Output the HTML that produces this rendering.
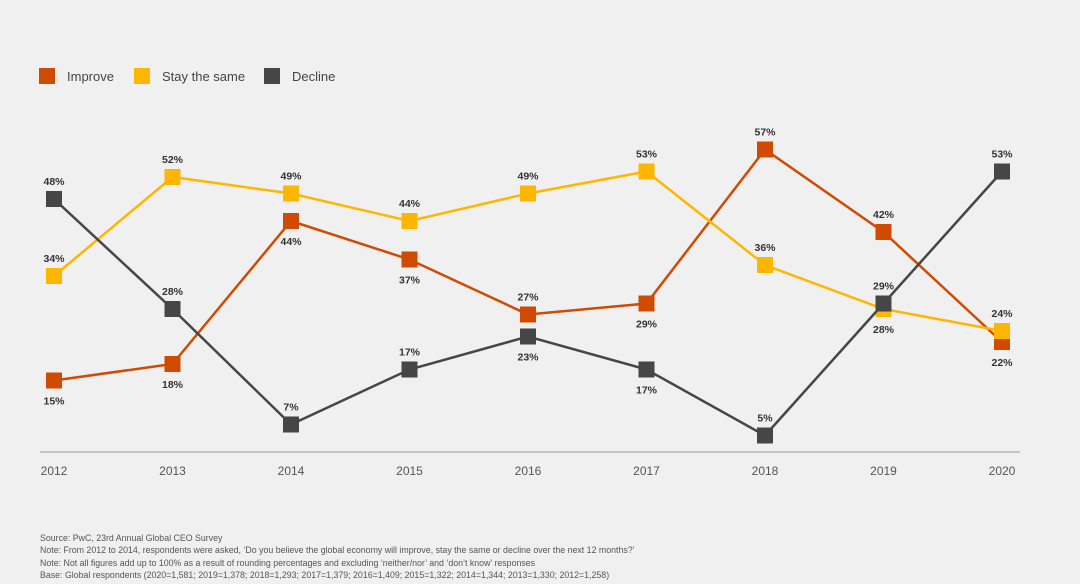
<!DOCTYPE html>
<html><head><meta charset="utf-8"><style>
html,body{margin:0;padding:0;background:#f0f0f0;}
body{width:1080px;height:584px;overflow:hidden;font-family:"Liberation Sans",sans-serif;position:relative;}
.leg{position:absolute;top:68px;font-size:13px;color:#444;display:flex;align-items:center;}
.sw{width:16px;height:16px;margin-right:12px;}
.notes{position:absolute;left:40px;top:532px;font-size:8.8px;color:#555;line-height:12.3px;}
</style></head><body>
<div class="leg" style="left:39px"><div class="sw" style="background:#d04a02"></div>Improve</div>
<div class="leg" style="left:134px"><div class="sw" style="background:#ffb600"></div>Stay the same</div>
<div class="leg" style="left:264px"><div class="sw" style="background:#464646"></div>Decline</div>
<svg id="chart" width="1080" height="584" style="position:absolute;left:0;top:0"></svg>
<div class="notes">Source: PwC, 23rd Annual Global CEO Survey<br>Note: From 2012 to 2014, respondents were asked, ‘Do you believe the global economy will improve, stay the same or decline over the next 12 months?’<br>Note: Not all figures add up to 100% as a result of rounding percentages and excluding ‘neither/nor’ and ‘don’t know’ responses<br>Base: Global respondents (2020=1,581; 2019=1,378; 2018=1,293; 2017=1,379; 2016=1,409; 2015=1,322; 2014=1,344; 2013=1,330; 2012=1,258)</div>
<script>
const years=["2012","2013","2014","2015","2016","2017","2018","2019","2020"];
const improve=[15,18,44,37,27,29,57,42,22];
const stay=[34,52,49,44,49,53,36,28,24];
const decline=[48,28,7,17,23,17,5,29,53];
const improvePos=["b","b","b","b","a","b","a","a","b"];
const stayPos=["a","a","a","a","a","a","a","b","a"];
const declinePos=["a","a","a","a","b","b","a","a","a"];
const NS="http://www.w3.org/2000/svg";
const svg=document.getElementById('chart');
function x(i){return 54+i*118.5;}
function y(v){return 463-v*5.5;}
function mk(t,a){const e=document.createElementNS(NS,t);for(const k in a)e.setAttribute(k,a[k]);svg.appendChild(e);return e;}
const ax=mk('line',{x1:40,x2:1020,y1:452,y2:452,stroke:'#999','stroke-width':1});


years.forEach((yr,i)=>{const t=mk('text',{x:x(i),y:475,'text-anchor':'middle','font-size':12,fill:'#555'});t.textContent=yr;

});
function series(vals,pos,col,name){
const pl=mk('polyline',{points:vals.map((v,i)=>x(i)+','+y(v)).join(' '),fill:'none',stroke:col,'stroke-width':2.5});


vals.forEach((v,i)=>{const r=mk('rect',{x:x(i)-8,y:y(v)-8,width:16,height:16,fill:col});


const t=mk('text',{x:x(i),y:pos[i]=='a'?y(v)-14:y(v)+24,'text-anchor':'middle','font-size':10.5,'font-weight':'bold',fill:'#333'});
t.textContent=v+'%';

});}
series(improve,improvePos,'#d04a02','improve');
series(stay,stayPos,'#ffb600','stay');
series(decline,declinePos,'#464646','decline');
</script>
</body></html>
